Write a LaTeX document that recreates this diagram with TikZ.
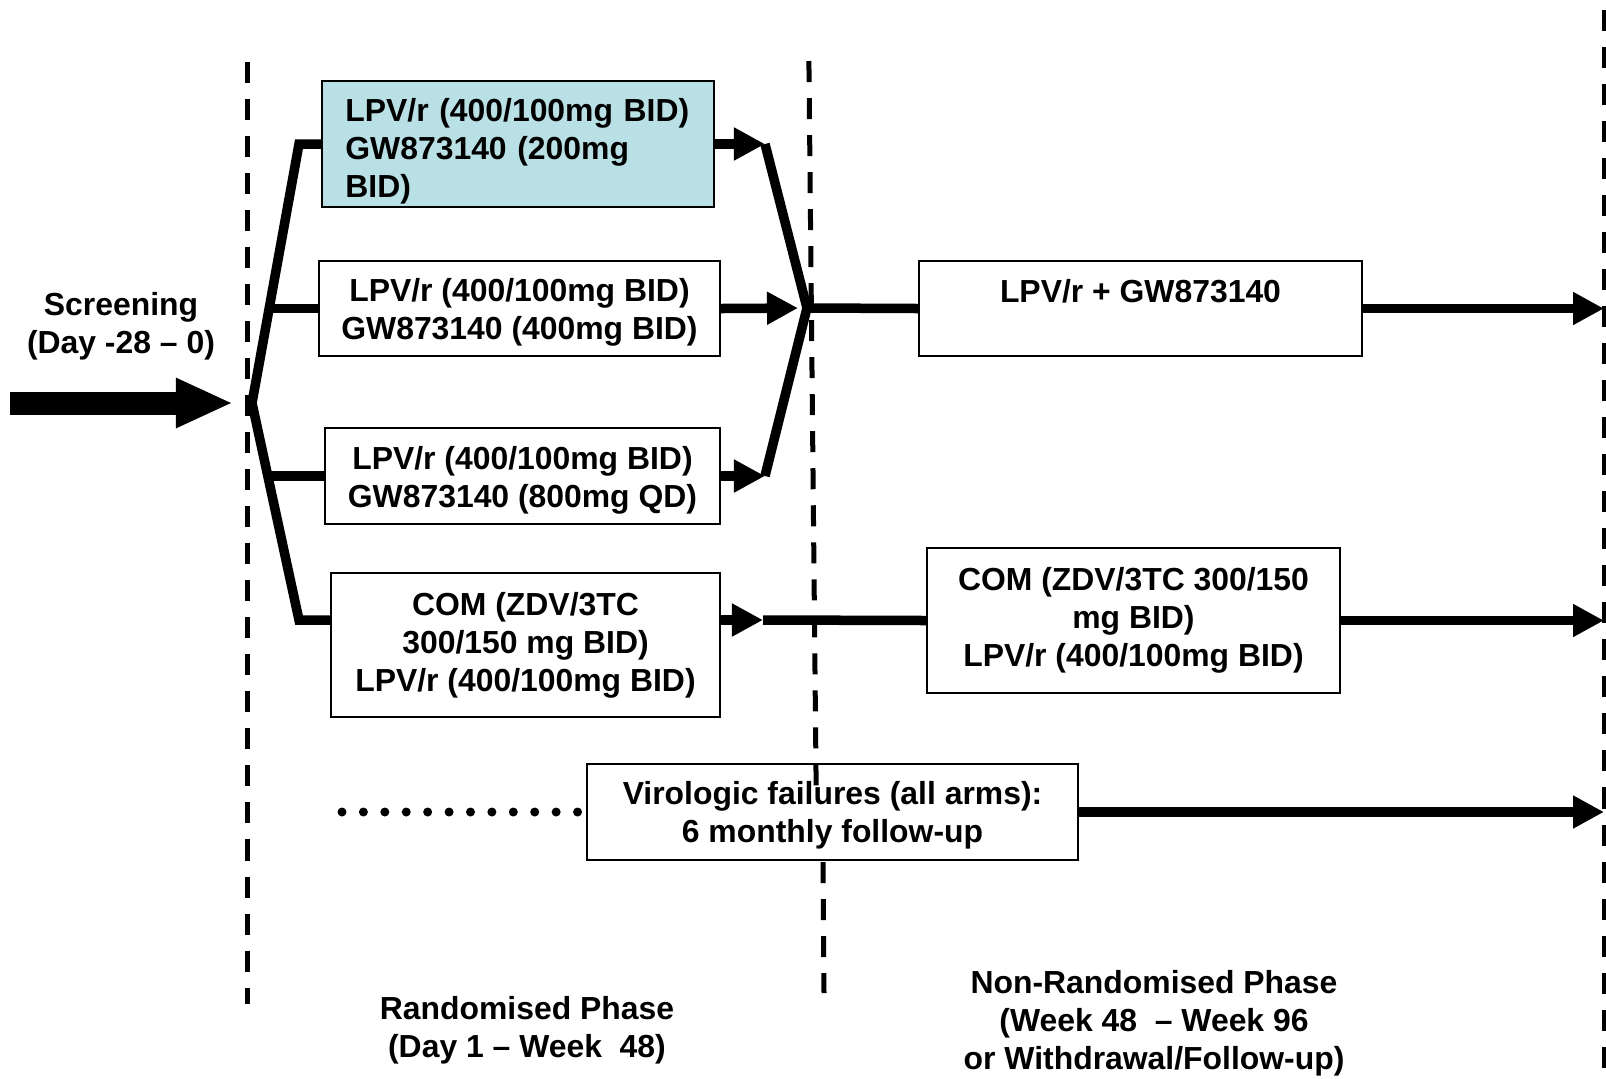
\documentclass[tikz,border=0pt]{standalone}
\usepackage{fontspec}
\setmainfont{Liberation Sans}
\usetikzlibrary{arrows.meta}
\definecolor{armcyan}{RGB}{185,224,228}
\tikzset{
  arm/.style={draw, line width=0.6pt, fill=white, inner sep=0pt, align=center},
  bar/.style={line width=0.095cm},
  barrow/.style={bar, -{Triangle[length=0.31cm,width=0.31cm]}},
  phaseline/.style={line width=0.05cm, dash pattern=on 0.21cm off 0.16cm},
  phasetext/.style={align=center}
}
\newcommand{\lift}[1]{\rule{0pt}{#1}}

\begin{document}
\begin{tikzpicture}[x=0.01cm, y=-0.01cm, font=\bfseries\fontsize{9.07}{10.8}\selectfont]
\useasboundingbox (0,0) rectangle (1606,1078);

\node[arm, fill=armcyan, align=left, text width=3.45cm, minimum width=3.92cm, minimum height=1.26cm] (b1) at (518,144) {\lift{10.7pt}LPV/r (400/100mg BID)\\GW873140 (200mg\\BID)};
\node[arm, minimum width=4.01cm, minimum height=0.95cm] (b2) at (519.5,308.5) {\lift{8.9pt}LPV/r (400/100mg BID)\\GW873140 (400mg BID)};
\node[arm, minimum width=3.95cm, minimum height=0.96cm] (b3) at (522.5,476) {\lift{8.9pt}LPV/r (400/100mg BID)\\GW873140 (800mg QD)};
\node[arm, minimum width=3.89cm, minimum height=1.44cm] (b4) at (525.5,645) {COM (ZDV/3TC\\300/150 mg BID)\\LPV/r (400/100mg BID)};
\node[arm, text depth=10pt, minimum width=4.43cm, minimum height=0.95cm] (b5) at (1140.5,308.5) {LPV/r + GW873140};
\node[arm, minimum width=4.13cm, minimum height=1.45cm] (b6) at (1133.5,620.5) {COM (ZDV/3TC 300/150\\mg BID)\\LPV/r (400/100mg BID)};
\node[arm, minimum width=4.91cm, minimum height=0.96cm] (b7) at (832.5,812) {\lift{8.3pt}Virologic failures (all arms):\\6 monthly follow-up};

\node[phasetext] (scr) at (121,326) {Screening\\(Day -28 -- 0)};
\node[phasetext] (rand) at (527,1030) {Randomised Phase\\(Day 1 -- Week\ \ 48)};
\node[phasetext] (nonrand) at (1154,1023) {Non-Randomised Phase\\(Week 48\ \ -- Week 96\\or Withdrawal/Follow-up)};

\coordinate (in) at (10,403);
\coordinate (apex) at (252,403);
\coordinate (ftop) at (299,144);
\coordinate (fbot) at (299,620);
\coordinate (fork) at (270,0);
\coordinate (ctop) at (765,144);
\coordinate (cbot) at (765,476);
\coordinate (join) at (807,308);
\coordinate (mid) at (763,620);
\coordinate (rim) at (1604,0);
\coordinate (dots) at (342,812);

\draw[line width=0.23cm, -{Triangle[length=0.57cm,width=0.46cm]}, shorten >=0.19cm] (in) -- (apex);
\draw[bar] (b1.west) -- (ftop) -- (apex) -- (fbot) -- (fbot -| b4.west);
\foreach \b in {b2,b3}
  \draw[bar] (\b.west -| fork) -- (\b.west);

\draw[barrow] (b1.east) -- (ctop);
\draw[barrow, shorten >=0.09cm] (b2.east) -- (join);
\draw[barrow] (b3.east) -- (cbot);
\draw[bar] (ctop) -- (join) -- (cbot);
\draw[bar] (join) -- (b5.west);
\draw[barrow] (fbot -| b4.east) -- (mid);
\draw[bar] (mid) -- (b6.west);
\foreach \b in {b5,b6,b7}
  \draw[barrow] (\b.east) -- (\b.east -| rim);
\draw[line width=0.09cm, line cap=round, dash pattern=on 0pt off 0.214cm, shorten >=0.05cm] (dots) -- (b7.west);

\draw[phaseline] (247.5,62) -- (247.5,1004);
\draw[phaseline] (808.9,61) -- (816.2,792);
\draw[phaseline] (823,862) -- (824,993);
\draw[phaseline] (1604.5,10) -- (1604.5,1078);
\end{tikzpicture}
\end{document}
